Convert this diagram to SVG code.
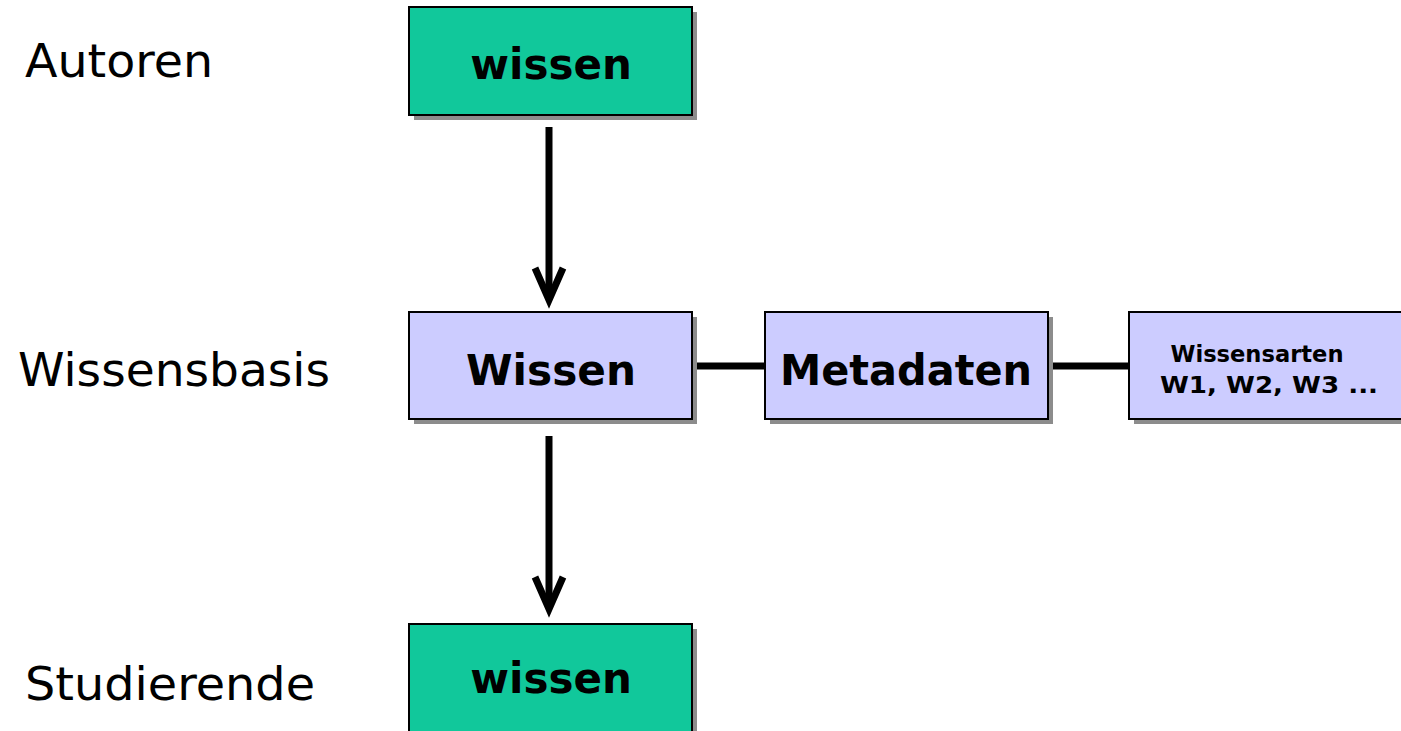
<svg xmlns="http://www.w3.org/2000/svg" width="1401" height="731" viewBox="0 0 1401 731">
<style>
.lbl{font-family:"DejaVu Sans",Verdana,sans-serif;font-size:46px;fill:#000}
.t{font-family:"DejaVu Sans",Verdana,sans-serif;font-weight:bold;fill:#000;text-anchor:middle}
.g{fill:#11c89b;stroke:#000;stroke-width:2}
.p{fill:#ccccff;stroke:#000;stroke-width:2}
.sh{fill:#8c8c8c}
.c{stroke:#000;stroke-width:7;fill:none}
.ah{stroke:#000;stroke-width:7;fill:none;stroke-linecap:butt;stroke-linejoin:miter}
</style>
<rect width="1401" height="731" fill="#fff"/>
<text class="lbl" x="25" y="77" textLength="188" lengthAdjust="spacingAndGlyphs">Autoren</text>
<text class="lbl" x="18" y="386" textLength="312" lengthAdjust="spacingAndGlyphs">Wissensbasis</text>
<text class="lbl" x="25" y="700" textLength="290" lengthAdjust="spacingAndGlyphs">Studierende</text>
<g id="connectors">
<line class="c" x1="549" y1="127" x2="549" y2="298"/>
<polyline class="ah" points="535,268 549,300 563,268"/>
<line class="c" x1="549" y1="436" x2="549" y2="607"/>
<polyline class="ah" points="535,577 549,609 563,577"/>
<line class="c" x1="692" y1="366" x2="765" y2="366"/>
<line class="c" x1="1048" y1="366" x2="1129" y2="366"/>
</g>
<g id="n-autoren-wissen">
<rect class="sh" x="414" y="12" width="283" height="108"/>
<rect class="g" x="409" y="7" width="283" height="108"/>
<text class="t" x="551" y="79" font-size="42">wissen</text>
</g>
<g id="n-wissen">
<rect class="sh" x="414" y="317" width="283" height="107"/>
<rect class="p" x="409" y="312" width="283" height="107"/>
<text class="t" x="551" y="385" font-size="42" textLength="170" lengthAdjust="spacingAndGlyphs">Wissen</text>
</g>
<g id="n-metadaten">
<rect class="sh" x="770" y="317" width="283" height="107"/>
<rect class="p" x="765" y="312" width="283" height="107"/>
<text class="t" x="906" y="385" font-size="42" textLength="252" lengthAdjust="spacingAndGlyphs">Metadaten</text>
</g>
<g id="n-wissensarten">
<rect class="sh" x="1134" y="317" width="283" height="107"/>
<rect class="p" x="1129" y="312" width="283" height="107"/>
<text class="t" x="1257" y="362" font-size="23" textLength="173" lengthAdjust="spacingAndGlyphs">Wissensarten</text>
<text class="t" x="1269" y="393" font-size="23" textLength="218" lengthAdjust="spacingAndGlyphs">W1, W2, W3 ...</text>
</g>
<g id="n-studierende-wissen">
<rect class="sh" x="414" y="629" width="283" height="108"/>
<rect class="g" x="409" y="624" width="283" height="108"/>
<text class="t" x="551" y="693" font-size="42">wissen</text>
</g>
</svg>
